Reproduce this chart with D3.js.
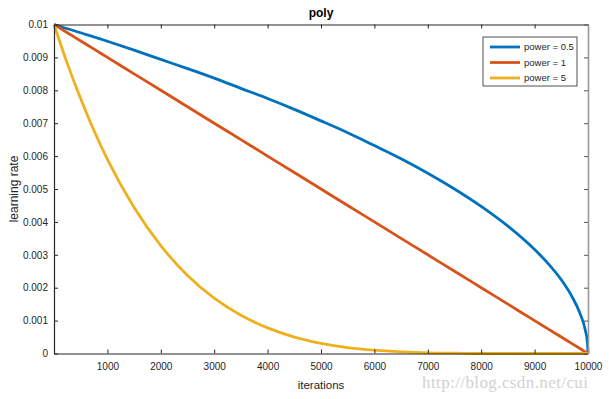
<!DOCTYPE html>
<html>
<head>
<meta charset="utf-8">
<script src="https://cdn.jsdelivr.net/npm/d3@7"></script>
<style>
  body { margin: 0; background: #fff; }
  text { font-family: 'Liberation Sans', Arial, sans-serif; }
</style>
</head>
<body>
<div id="chart"></div>
<script>
// values
const iterations = [0, 250, 500, 750, 1000, 1500, 2000, 2500, 3000, 3500, 4000, 4500, 5000, 5500,
  6000, 6500, 7000, 7500, 8000, 8500, 9000, 9250, 9500, 9700, 9850, 9950, 9990, 10000];
const power05 = [0.01, 0.00987, 0.00975, 0.00962, 0.00949, 0.00922, 0.00894, 0.00866, 0.00837, 0.00806,
  0.00775, 0.00742, 0.00707, 0.00671, 0.00632, 0.00592, 0.00548, 0.005, 0.00447, 0.00387, 0.00316,
  0.00274, 0.00224, 0.00173, 0.00122, 0.00071, 0.00032, 0];
const power1 = [0.01, 0.00975, 0.0095, 0.00925, 0.009, 0.0085, 0.008, 0.0075, 0.007, 0.0065, 0.006,
  0.0055, 0.005, 0.0045, 0.004, 0.0035, 0.003, 0.0025, 0.002, 0.0015, 0.001, 0.00075, 0.0005, 0.0003,
  0.00015, 0.00005, 0.00001, 0];
const power5 = [0.01, 0.00881, 0.00774, 0.00677, 0.0059, 0.00444, 0.00328, 0.00237, 0.00168, 0.00116,
  0.00078, 0.0005, 0.00031, 0.00018, 0.0001, 0.00005, 0.00002, 0.00001, 0, 0, 0, 0, 0, 0, 0, 0, 0, 0];
const seriesNames = ['power = 0.5', 'power = 1', 'power = 5'];
const xTicks = [1000, 2000, 3000, 4000, 5000, 6000, 7000, 8000, 9000, 10000];
const yTicks = [0, 0.001, 0.002, 0.003, 0.004, 0.005, 0.006, 0.007, 0.008, 0.009, 0.01];

const width = 609;
const height = 399;
const margin = { top: 24.5, right: 21, bottom: 45.5, left: 54 };
const colors = ['#0072BD', '#D95319', '#EDB120'];

const series = [power05, power1, power5].map((vals, i) => ({
  name: seriesNames[i],
  color: colors[i],
  points: iterations.map((x, j) => [x, vals[j]]),
}));

const x = d3.scaleLinear().domain([0, 10000]).range([margin.left, width - margin.right]);
const y = d3.scaleLinear().domain([0, 0.01]).range([height - margin.bottom, margin.top]);

const svg = d3.select('#chart').append('svg')
  .attr('width', width)
  .attr('height', height)
  .style('display', 'block');

const line = d3.line()
  .x((d) => x(d[0]))
  .y((d) => y(d[1]))
  .curve(d3.curveMonotoneX);

// curves
svg.append('g')
  .selectAll('path')
  .data(series)
  .join('path')
  .attr('fill', 'none')
  .attr('stroke', (d) => d.color)
  .attr('stroke-width', 2.8)
  .attr('d', (d) => line(d.points));

// axes (matlab style, ticks inward, box on)
const axisColor = '#262626';
const xAxisBottom = svg.append('g')
  .attr('transform', `translate(0,${height - margin.bottom})`)
  .call(d3.axisBottom(x).tickValues(xTicks).tickFormat(d3.format('d')).tickSizeInner(-4).tickSizeOuter(0).tickPadding(9));
const yAxisLeft = svg.append('g')
  .attr('transform', `translate(${margin.left},0)`)
  .call(d3.axisLeft(y).tickValues(yTicks).tickFormat(d3.format('~g')).tickSizeInner(-4).tickSizeOuter(0).tickPadding(6));
const xAxisTop = svg.append('g')
  .attr('transform', `translate(0,${margin.top})`)
  .call(d3.axisTop(x).tickValues(xTicks).tickSizeInner(-4).tickSizeOuter(0).tickFormat(''));
const yAxisRight = svg.append('g')
  .attr('transform', `translate(${width - margin.right},0)`)
  .call(d3.axisRight(y).tickValues(yTicks).tickSizeInner(-4).tickSizeOuter(0).tickFormat(''));

[xAxisBottom, yAxisLeft, xAxisTop].forEach((g) => {
  g.select('.domain').attr('stroke', axisColor).attr('stroke-width', 1.2);
  g.selectAll('.tick line').attr('stroke', axisColor);
  g.selectAll('.tick text').attr('fill', '#262626').style('font-size', '10px')
    .style('font-family', "'Liberation Sans', Arial, sans-serif");
});
yAxisRight.select('.domain').attr('stroke', '#999').attr('stroke-width', 1.6);
yAxisRight.selectAll('.tick line').attr('stroke', '#555');

// title and axis labels
svg.append('text')
  .attr('x', (margin.left + width - margin.right) / 2)
  .attr('y', 17)
  .attr('text-anchor', 'middle')
  .style('font-size', '12px')
  .style('font-weight', 'bold')
  .attr('fill', '#000')
  .text('poly');

svg.append('text')
  .attr('x', (margin.left + width - margin.right) / 2)
  .attr('y', 389)
  .attr('text-anchor', 'middle')
  .style('font-size', '11.5px')
  .attr('fill', '#262626')
  .text('iterations');

svg.append('text')
  .attr('transform', `translate(18,${(margin.top + height - margin.bottom) / 2}) rotate(-90)`)
  .attr('text-anchor', 'middle')
  .style('font-size', '12px')
  .attr('fill', '#262626')
  .text('learning rate');

// legend
const legend = svg.append('g').attr('transform', 'translate(483,37)');
legend.append('rect')
  .attr('width', 94)
  .attr('height', 49)
  .attr('fill', '#fff')
  .attr('stroke', axisColor)
  .attr('stroke-width', 0.8);
const item = legend.selectAll('g')
  .data(series)
  .join('g')
  .attr('transform', (d, i) => `translate(0,${10 + i * 15.5})`);
item.append('line')
  .attr('x1', 7)
  .attr('x2', 37)
  .attr('stroke', (d) => d.color)
  .attr('stroke-width', 2.8);
item.append('text')
  .attr('x', 41)
  .attr('dy', '0.35em')
  .style('font-size', '9.5px')
  .attr('fill', '#262626')
  .text((d) => d.name);

// watermark from the source image
svg.append('text')
  .attr('x', 422)
  .attr('y', 388)
  .style('font-family', "'Liberation Serif', serif")
  .style('font-size', '17px')
  .style('letter-spacing', '0.4px')
  .attr('fill', '#d2d2d2')
  .text('http://blog.csdn.net/cui');
</script>
</body>
</html>
